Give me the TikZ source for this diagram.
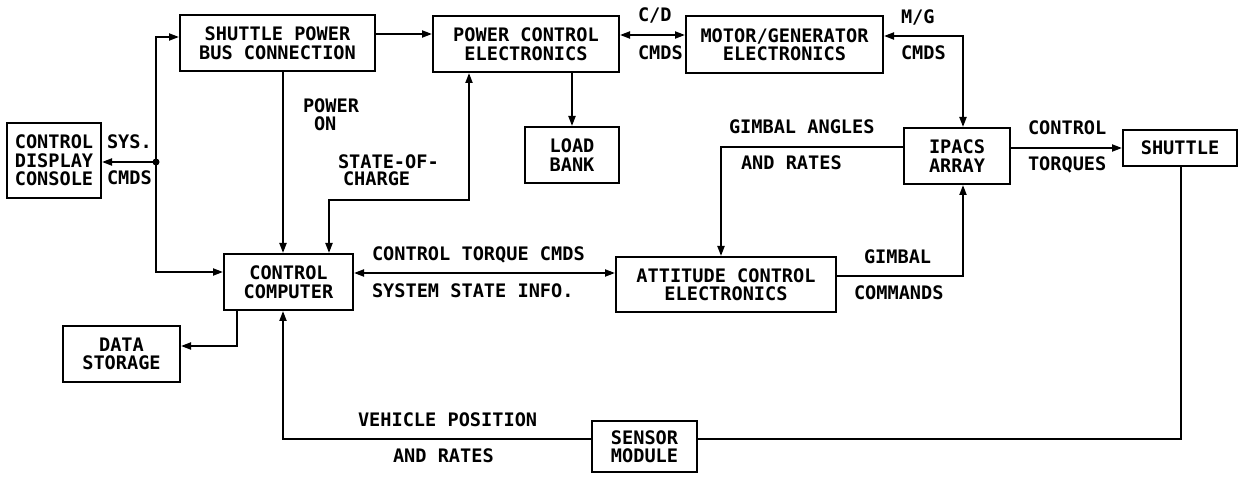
\documentclass[tikz,border=0pt]{standalone}
\usepackage{fontspec}
\setmonofont{DejaVu Sans Mono}
\usetikzlibrary{arrows.meta}
\newfontfamily\plotfont{DejaVu Sans Mono}
\begin{document}
\begin{tikzpicture}[x=1pt,y=-1pt,
  line width=2pt,
  >={Triangle[length=10pt,width=7pt]},
  box/.style={draw, line width=2pt, inner sep=0pt, align=center,
    font=\plotfont\bfseries\fontsize{18.6}{18.5}\selectfont},
  lbl/.style={inner sep=0pt, anchor=west, text height=13.6pt, text depth=0pt,
    font=\plotfont\bfseries\fontsize{18.6}{18.5}\selectfont}]
\useasboundingbox (0,0) rectangle (1240,478);
% boxes
\node[box, minimum width=94pt,  minimum height=75pt] (cdc) at (54,160.5) {CONTROL\\DISPLAY\\CONSOLE};
\node[box, minimum width=195pt, minimum height=56pt] (spbc) at (277.5,43) {SHUTTLE POWER\\BUS CONNECTION};
\node[box, minimum width=186pt, minimum height=56pt] (pce) at (526,44) {POWER CONTROL\\ELECTRONICS};
\node[box, minimum width=94pt,  minimum height=56pt] (lb) at (572,155) {LOAD\\BANK};
\node[box, minimum width=197pt, minimum height=57pt] (mge) at (784.5,44.5) {MOTOR/GENERATOR\\ELECTRONICS};
\node[box, minimum width=106pt, minimum height=56pt] (ipacs) at (957,156) {IPACS\\ARRAY};
\node[box, minimum width=114pt, minimum height=36pt] (shuttle) at (1180,148) {SHUTTLE};
\node[box, minimum width=129pt, minimum height=56pt] (cc) at (288.5,282) {CONTROL\\COMPUTER};
\node[box, minimum width=220pt, minimum height=55pt] (ace) at (726,284.5) {ATTITUDE CONTROL\\ELECTRONICS};
\node[box, minimum width=117pt, minimum height=56pt] (ds) at (121.5,354) {DATA\\STORAGE};
\node[box, minimum width=105pt, minimum height=51pt] (sm) at (644.5,446.5) {SENSOR\\MODULE};
% bus junction
\coordinate (dot) at (156,162);
\coordinate (bt) at (156,37);
\coordinate (bb) at (156,272);
\fill (dot) circle (3.5pt);
\draw[->] (dot) -- (dot -| cdc.east);
\draw[->] (dot) -- (bt) -- (bt -| spbc.west);
\draw[->] (dot) -- (bb) -- (bb -| cc.west);
% top row
\draw[->] (spbc.east |- 0,34) -- (pce.west |- 0,34);
\draw[<->] (pce.east |- 0,35) -- (mge.west |- 0,35);
\draw[->] (572,0 |- pce.south) -- (lb.north);
\draw[<->] (mge.east |- 0,36) -- (963,36) -- (963,0 |- ipacs.north);
% ipacs
\draw[->] (ipacs.east |- 0,148) -- (shuttle.west);
\draw[->] (ipacs.west |- 0,147) -- (721,147) -- (721,0 |- ace.north);
\draw[->] (ace.east |- 0,276) -- (963,276) -- (963,0 |- ipacs.south);
% control computer
\draw[<->] (cc.east |- 0,273) -- (ace.west |- 0,273);
\draw[->] (283,0 |- spbc.south) -- (283,0 |- cc.north);
\draw[<->] (329,0 |- cc.north) -- (329,200) -- (469,200) -- (469,0 |- pce.south);
\draw[->] (237,0 |- cc.south) -- (237,346) -- (ds.east |- 0,346);
\draw[->] (sm.west |- 0,439) -- (283,439) -- (283,0 |- cc.south);
\draw (shuttle.south -| 1181,0) -- (1181,439) -- (sm.east |- 0,439);
% labels
\node[lbl] (sys) at (106,142) {SYS.};
\node[lbl] (sysc) at (106,178) {CMDS};
\node[lbl] (pw1) at (302,106) {POWER};
\node[lbl] (pw2) at (313,124) {ON};
\node[lbl] (soc1) at (337,162) {STATE-OF-};
\node[lbl] (soc2) at (342,179) {CHARGE};
\node[lbl] (cd1) at (637,15) {C/D};
\node[lbl] (cd2) at (637,53) {CMDS};
\node[lbl] (mg1) at (900,17) {M/G};
\node[lbl] (mg2) at (900,53) {CMDS};
\node[lbl] (ga1) at (728,127) {GIMBAL ANGLES};
\node[lbl] (ga2) at (740,163) {AND RATES};
\node[lbl] (ct1) at (1027,128) {CONTROL};
\node[lbl] (ct2) at (1027,164) {TORQUES};
\node[lbl] (tc1) at (371,254) {CONTROL TORQUE CMDS};
\node[lbl] (tc2) at (371,291) {SYSTEM STATE INFO.};
\node[lbl] (gc1) at (863,257) {GIMBAL};
\node[lbl] (gc2) at (853,293) {COMMANDS};
\node[lbl] (vp1) at (357,420) {VEHICLE POSITION};
\node[lbl] (vp2) at (392,456) {AND RATES};
\end{tikzpicture}
\end{document}
